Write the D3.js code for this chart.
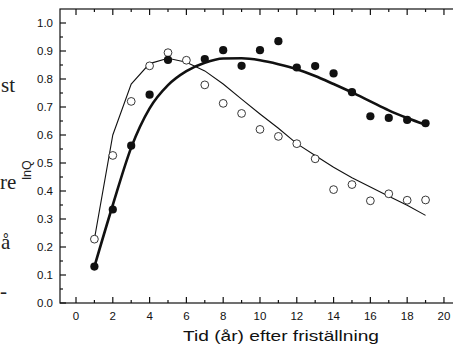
<!DOCTYPE html>
<html><head><meta charset="utf-8">
<script src="https://cdn.jsdelivr.net/npm/d3@7"></script>
<style>
html,body{margin:0;padding:0;background:#fff;}
svg{display:block;}
</style></head>
<body>
<svg id="c" width="453" height="347"></svg>
<script>
const years = [1,2,3,4,5,6,7,8,9,10,11,12,13,14,15,16,17,18,19];
// filled circles (x=6 missing in source)
const filledX = [1,2,3,4,5,7,8,9,10,11,12,13,14,15,16,17,18,19];
const filledY = [0.130,0.334,0.562,0.744,0.868,0.871,0.903,0.847,0.903,0.935,0.841,0.846,0.820,0.753,0.667,0.661,0.654,0.642];
// open circles
const openY = [0.228,0.527,0.720,0.847,0.894,0.867,0.779,0.713,0.677,0.620,0.595,0.569,0.515,0.405,0.423,0.365,0.390,0.367,0.368];
// thick fitted curve
const fitFilled = [0.130,0.350,0.555,0.695,0.778,0.828,0.858,0.873,0.874,0.867,0.853,0.835,0.811,0.782,0.752,0.720,0.688,0.661,0.637];
// thin fitted curve
const fitOpen = [0.228,0.600,0.782,0.855,0.874,0.860,0.829,0.782,0.728,0.675,0.624,0.569,0.527,0.485,0.447,0.414,0.381,0.349,0.313];
const xMajor = [0,2,4,6,8,10,12,14,16,18,20];
const xMinor = [1,3,5,7,9,11,13,15,17,19];
const yMajor = [0,0.1,0.2,0.3,0.4,0.5,0.6,0.7,0.8,0.9,1.0];
const yMinor = [0.05,0.15,0.25,0.35,0.45,0.55,0.65,0.75,0.85,0.95];
const xTitle = "Tid (år) efter friställning";

const svg = d3.select("#c");
const L=60, R=455, T=9, B=303;
const x = d3.scaleLinear().domain([-0.87,20.6]).range([L,R]);
const y = d3.scaleLinear().domain([0,1.05]).range([B,T]);

// left-side cropped body text
const serif = "'Liberation Serif','Times New Roman',serif";
svg.append("text").attr("x",1).attr("y",92).attr("font-family",serif).attr("font-size",21).attr("fill","#222").text("st");
svg.append("text").attr("x",0).attr("y",189).attr("font-family",serif).attr("font-size",21).attr("fill","#222").text("re");
svg.append("text").attr("x",1).attr("y",249).attr("font-family",serif).attr("font-size",21).attr("fill","#222").text("å");
svg.append("text").attr("x",0).attr("y",298).attr("font-family",serif).attr("font-size",21).attr("fill","#222").text("-");
svg.append("text").attr("transform","translate(31,170) rotate(-90)").attr("text-anchor","middle")
  .attr("font-family","'Liberation Sans',Arial,sans-serif").attr("font-size",12.5).attr("fill","#222").text("lnQ");

const sans = "'Liberation Sans',Arial,sans-serif";
// frame
svg.append("rect").attr("x",L).attr("y",T).attr("width",R-L).attr("height",B-T)
  .attr("fill","none").attr("stroke","#111").attr("stroke-width",1.2);

const g = svg.append("g").attr("stroke","#111").attr("stroke-width",1.2);
xMajor.forEach(v=>{
  g.append("line").attr("x1",x(v)).attr("x2",x(v)).attr("y1",B).attr("y2",B-6);
  g.append("line").attr("x1",x(v)).attr("x2",x(v)).attr("y1",T).attr("y2",T+6);
});
xMinor.forEach(v=>{
  g.append("line").attr("x1",x(v)).attr("x2",x(v)).attr("y1",B).attr("y2",B-3);
  g.append("line").attr("x1",x(v)).attr("x2",x(v)).attr("y1",T).attr("y2",T+3);
});
yMajor.forEach(v=>{
  g.append("line").attr("x1",L).attr("x2",L+6).attr("y1",y(v)).attr("y2",y(v));
});
yMinor.forEach(v=>{
  g.append("line").attr("x1",L).attr("x2",L+3).attr("y1",y(v)).attr("y2",y(v));
});
svg.selectAll(".xl").data(xMajor).enter().append("text")
  .attr("x",d=>x(d)).attr("y",B+17).attr("text-anchor","middle")
  .attr("font-family",sans).attr("font-size",11.5).attr("fill","#111").text(d=>d);
svg.selectAll(".yl").data(yMajor).enter().append("text")
  .attr("x",L-7).attr("y",d=>y(d)+4).attr("text-anchor","end")
  .attr("font-family",sans).attr("font-size",11.5).attr("fill","#111").text(d=>d.toFixed(1));
svg.append("text").attr("x",183).attr("y",B+38)
  .attr("font-family",sans).attr("font-size",15).attr("fill","#111")
  .attr("textLength",196).attr("lengthAdjust","spacingAndGlyphs").text(xTitle);

const lineThin = d3.line().x((d,i)=>x(years[i])).y(d=>y(d));
const lineThick = d3.line().x((d,i)=>x(years[i])).y(d=>y(d)).curve(d3.curveMonotoneX);
svg.append("path").attr("d",lineThin(fitOpen)).attr("fill","none").attr("stroke","#111").attr("stroke-width",1.1);
svg.append("path").attr("d",lineThick(fitFilled)).attr("fill","none").attr("stroke","#111").attr("stroke-width",2.6);

svg.selectAll(".op").data(openY).enter().append("circle")
  .attr("cx",(d,i)=>x(years[i])).attr("cy",d=>y(d)).attr("r",3.9)
  .attr("fill","#fff").attr("stroke","#222").attr("stroke-width",0.9);
svg.selectAll(".fp").data(filledY).enter().append("circle")
  .attr("cx",(d,i)=>x(filledX[i])).attr("cy",d=>y(d)).attr("r",4.1)
  .attr("fill","#111");
</script>
</body></html>
